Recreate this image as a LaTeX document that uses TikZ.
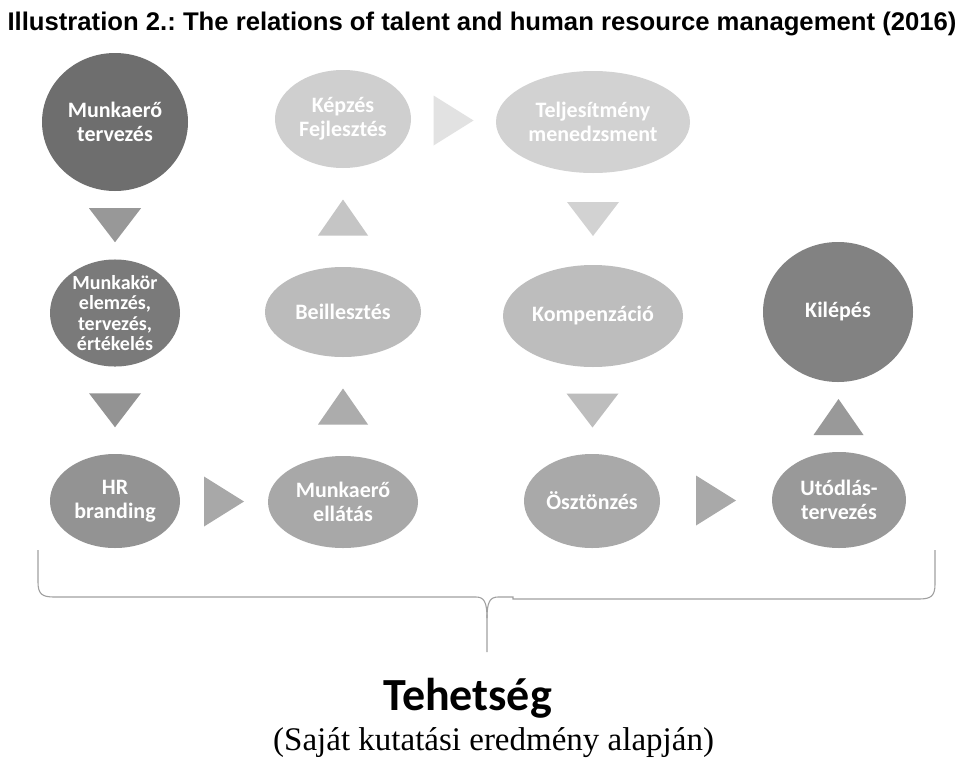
\documentclass[tikz,border=0pt]{standalone}
\usepackage{fontspec}
\setmainfont{Liberation Serif}
\newfontfamily\headfont{Liberation Sans}
\newfontfamily\boxfont{Carlito}
\usetikzlibrary{shapes.geometric,calc}

% fills of the process steps, dark to light
\definecolor{stepA}{HTML}{6E6E6E}
\definecolor{stepB}{HTML}{7A7A7A}
\definecolor{stepC}{HTML}{939393}
\definecolor{stepD}{HTML}{A8A8A8}
\definecolor{stepE}{HTML}{BBBBBB}
\definecolor{stepF}{HTML}{CFCFCF}
\definecolor{stepG}{HTML}{D2D2D2}
\definecolor{stepH}{HTML}{BDBDBD}
\definecolor{stepI}{HTML}{A9A9A9}
\definecolor{stepJ}{HTML}{999999}
\definecolor{stepK}{HTML}{828282}
\definecolor{braceline}{HTML}{A0A0A0}

\tikzset{
  phase/.style={ellipse, inner sep=0pt, text=white, align=center,
    font=\boxfont\bfseries\fontsize{22}{24}\selectfont},
  pics/chevdown/.style={code={\fill (-26,-17) -- (26,-17) -- (0,17) -- cycle;}},
  pics/chevup/.style={code={\fill (-25,18) -- (25,18) -- (0,-18) -- cycle;}},
  pics/chevright/.style={code={\fill (-20,-25) -- (20,0) -- (-20,25) -- cycle;}},
}

\begin{document}
\frenchspacing
\begin{tikzpicture}[x=1pt,y=-1pt]
\useasboundingbox[fill=white] (0,0) rectangle (958,763);

% title
\node[anchor=base, inner sep=0pt] (title) at (482,30) {\resizebox{949pt}{18.5pt}{\headfont\bfseries\fontsize{21}{24}\selectfont Illustration 2.: The relations of talent and human resource management (2016)}};

% process steps
\node[phase, fill=stepA, minimum width=146pt, minimum height=138pt] (n1) at (115,122) {Munkaerő\\tervezés};
\node[phase, fill=stepB, minimum width=130pt, minimum height=90pt,
      font=\boxfont\bfseries\fontsize{20}{20.5}\selectfont] (n2) at (115,313) {Munkakör\\elemzés,\\tervezés,\\értékelés};
\node[phase, fill=stepC, minimum width=130pt, minimum height=94pt] (n3) at (115,501) {HR\\branding};
\node[phase, fill=stepD, minimum width=150pt, minimum height=92pt] (n4) at (343,502) {Munkaerő\\ellátás};
\node[phase, fill=stepE, minimum width=156pt, minimum height=90pt] (n5) at (343,312) {Beillesztés};
\node[phase, fill=stepF, minimum width=136pt, minimum height=98pt] (n6) at (343,119) {Képzés\\Fejlesztés};
\node[phase, fill=stepG, minimum width=194pt, minimum height=102pt] (n7) at (593,122) {Teljesítmény\\menedzsment};
\node[phase, fill=stepH, minimum width=180pt, minimum height=102pt] (n8) at (593,316) {Kompenzáció};
\node[phase, fill=stepI, minimum width=136pt, minimum height=94pt] (n9) at (592,501) {Ösztönzés};
\node[phase, fill=stepJ, minimum width=134pt, minimum height=96pt] (n10) at (839,500) {Utódlás-\\tervezés};
\node[phase, fill=stepK, minimum width=150pt, minimum height=140pt] (n11) at (838,312) {Kilépés};

% chevrons between consecutive steps
\pic[fill=stepC!95!white] at ($(n1.south)!0.5!(n2.north)$) {chevdown};
\pic[fill=stepC] at ($(n2.south)!0.5!(n3.north)$) {chevdown};
\pic[fill=stepD] at ($(n3.east)!0.5!(n4.west)$) {chevright};
\pic[fill=stepE!92!black] at ($(n4.north)!0.5!(n5.south)$) {chevup};
\pic[fill=stepF!95!black] at ($(n5.north)!0.5!(n6.south)$) {chevup};
\pic[fill=stepF!60!white] at ($(n6.east)!0.5!(n7.west)$) {chevright};
\pic[fill=stepG] at ($(n7.south)!0.5!(n8.north)$) {chevdown};
\pic[fill=stepH] at ($(n8.south)!0.5!(n9.north)$) {chevdown};
\pic[fill=stepI] at ($(n9.east)!0.5!(n10.west)$) {chevright};
\pic[fill=stepJ] at ($(n10.north)!0.5!(n11.south)$) {chevup};

% brace gathering all steps
\coordinate (bl) at (38,550);
\coordinate (br) at (935,550);
\coordinate (tip) at (487,652);
\draw[braceline, line width=1.1pt]
  (bl) -- (38,582) .. controls (38,594) and (42,597) .. (54,597)
  -- (476,597) .. controls (484,597) and (487,602) .. (487,618) -- (tip);
\draw[braceline, line width=1.1pt]
  (br) -- (935,584) .. controls (935,596) and (931,599) .. (919,599)
  -- (513,599) -- (513,597) -- (498,597) .. controls (490,597) and (487,602) .. (487,618);

% labels
\node[anchor=base west, inner sep=0pt] (talent) at (383,710) {\boxfont\bfseries\fontsize{46}{48}\selectfont Tehetség};
\node[anchor=base west, inner sep=0pt] (source) at (273,750) {\fontsize{33}{36}\selectfont (Saját kutatási eredmény alapján)};
\end{tikzpicture}
\end{document}
